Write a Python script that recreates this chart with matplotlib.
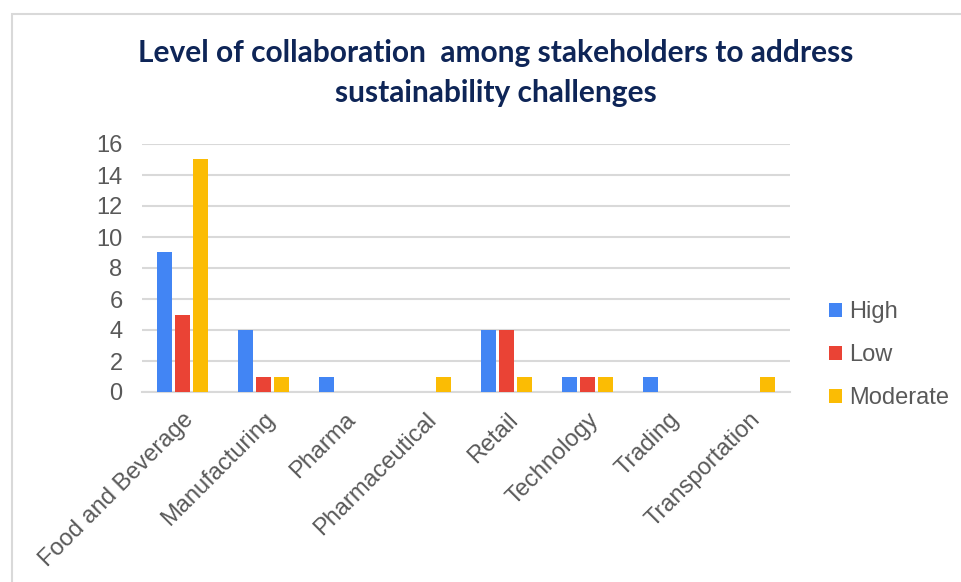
import matplotlib
matplotlib.use("Agg")
import matplotlib.pyplot as plt
import numpy as np
from matplotlib.patches import Rectangle, Patch

categories = ["Food and Beverage", "Manufacturing", "Pharma", "Pharmaceutical",
              "Retail", "Technology", "Trading", "Transportation"]
high = [9, 4, 1, 0, 4, 1, 1, 0]
low = [5, 1, 0, 0, 4, 1, 0, 0]
moderate = [15, 1, 0, 1, 1, 1, 0, 1]
series_names = ["High", "Low", "Moderate"]
colors = ["#4285F4", "#EA4335", "#FBBC04"]
yticks = [0, 2, 4, 6, 8, 10, 12, 14, 16]

plt.rcParams['font.family'] = ['Liberation Sans', 'DejaVu Sans']

W, H = 962, 582
fig = plt.figure(figsize=(W / 100, H / 100), dpi=100)

# outer frame
fig.patches.append(Rectangle((12 / W, -0.1), 1.2, (H - 14) / H + 0.1,
                             transform=fig.transFigure, fill=False,
                             edgecolor="#D9D9D9", linewidth=1.5))

ax = fig.add_axes([142 / W, 1 - 392 / H, (790 - 142) / W, (392 - 144) / H])
x = np.arange(len(categories))
bw = 0.185
step = 0.222
for i, (vals, c, name) in enumerate(zip([high, low, moderate], colors, series_names)):
    ax.bar(x + (i - 1) * step, vals, width=bw, color=c, label=name, zorder=3)

ax.set_xlim(-0.5, len(categories) - 0.5)
ax.set_ylim(0, 16)
ax.set_yticks(yticks)
ax.set_yticklabels([str(v) for v in yticks], fontsize=17, color="#595959")
ax.grid(axis="y", color="#D9D9D9", linewidth=1.5, zorder=0)
for s in ["top", "right", "left"]:
    ax.spines[s].set_visible(False)
ax.spines["bottom"].set_color("#D9D9D9")
ax.spines["bottom"].set_linewidth(1.5)
ax.tick_params(axis="both", length=0)
ax.tick_params(axis="y", pad=14)
ax.set_xticks(x)
ax.set_xticklabels(categories, rotation=45, ha="right", rotation_mode="anchor",
                   fontsize=17, color="#595959")
ax.tick_params(axis="x", pad=12)

fig.text(496 / W, 1 - 53 / H, "Level of collaboration  among stakeholders to address",
         ha="center", va="center", fontsize=21.5, fontweight="bold",
         color="#0E2557", family="Lato")
fig.text(496 / W, 1 - 93 / H, "sustainability challenges",
         ha="center", va="center", fontsize=21.5, fontweight="bold",
         color="#0E2557", family="Lato")

handles = [Patch(facecolor=c, edgecolor="none") for c in colors]
leg = fig.legend(handles, series_names, loc="upper left",
                 bbox_to_anchor=(820 / W, 1 - 292 / H), frameon=False,
                 fontsize=17, handlelength=0.55, handleheight=0.55,
                 handletextpad=0.3, labelspacing=0.88, borderaxespad=0)
for t in leg.get_texts():
    t.set_color("#595959")

fig.savefig("out.png", dpi=100)
